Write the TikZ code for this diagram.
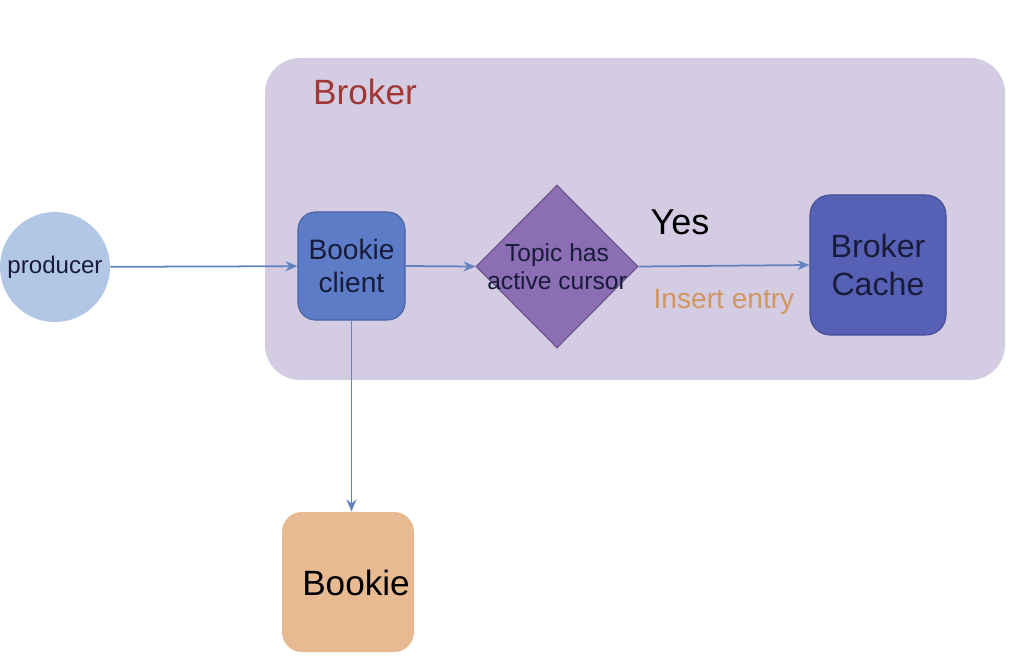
\documentclass[tikz,border=0pt]{standalone}
\usepackage{fontspec}
\setmainfont{Liberation Sans}
\usepackage{tikz}
\usetikzlibrary{arrows.meta}
\usetikzlibrary{shapes.geometric}
\usetikzlibrary{positioning}
\definecolor{fundo}{RGB}{212,204,226}
\definecolor{produtor}{RGB}{178,198,230}
\definecolor{cliente}{RGB}{92,124,200}
\definecolor{decisao}{RGB}{140,110,180}
\definecolor{cache}{RGB}{86,96,180}
\definecolor{bookie}{RGB}{232,186,146}
\definecolor{seta}{RGB}{100,130,192}
\definecolor{titulo}{RGB}{160,56,56}
\definecolor{rotulo}{RGB}{210,150,95}
\definecolor{escuro}{RGB}{24,28,58}
\tikzset{
  bloco/.style={draw=#1!80!black, fill=#1, rounded corners=0.35cm, align=center, inner sep=0pt, line width=0.6pt, text=escuro},
  bloco/.default=cliente,
  ligacao/.style={-{Stealth[length=2.4mm,width=2mm]}, line width=1pt, draw=seta},
}
\begin{document}
\begin{tikzpicture}
  \useasboundingbox (0,0) rectangle (20.48,-13.34);
  % broker area
  \node[fill=fundo, rounded corners=0.7cm, minimum width=14.8cm, minimum height=6.44cm] (broker) at (12.70,-4.38) {};
  \node[text=titulo, font=\fontsize{20}{24}\selectfont] (brokertitle) at (7.30,-1.84) {Broker};
  % producer
  \node[circle, fill=produtor, minimum size=2.2cm, inner sep=0pt, text=escuro, font=\fontsize{13.7}{16}\selectfont] (producer) at (1.10,-5.34) {producer};
  % bookie client
  \node[bloco, minimum width=2.14cm, minimum height=2.16cm, font=\fontsize{16}{19}\selectfont] (client) at (7.03,-5.32) {Bookie\\client};
  % decision
  \node[diamond, draw=decisao!75!black, fill=decisao, line width=0.6pt, minimum width=3.24cm, minimum height=3.26cm, inner sep=0pt] (cursor) at (11.14,-5.33) {};
  \node[align=center, text=escuro, font=\fontsize{14}{16}\selectfont] (cursortext) at (cursor) {Topic has\\active cursor};
  % broker cache
  \node[bloco=cache, minimum width=2.72cm, minimum height=2.80cm, rounded corners=0.4cm, font=\fontsize{18.3}{22}\selectfont] (cache) at (17.56,-5.30) {Broker\\Cache};
  % bookie
  \node[bloco=bookie, draw=none, minimum width=2.64cm, minimum height=2.80cm, rounded corners=0.4cm] (bookie) at (6.96,-11.64) {};
  \node[text=black, font=\fontsize{20}{24}\selectfont] (bookietext) at (7.12,-11.66) {Bookie};
  % labels
  \node[font=\fontsize{20.5}{24}\selectfont] (yes) at (13.60,-4.44) {Yes};
  \node[text=rotulo, font=\fontsize{16}{19}\selectfont] (insert) at (14.48,-6.04) {Insert entry};
  % arrows
  \draw[ligacao] (producer) -- (client);
  \draw[ligacao] (client.east) -- (cursor.west);
  \draw[ligacao] (cursor.east) -- (cache.west);
  \draw[ligacao] (client.south) -- (client.south |- bookie.north);
\end{tikzpicture}
\end{document}
